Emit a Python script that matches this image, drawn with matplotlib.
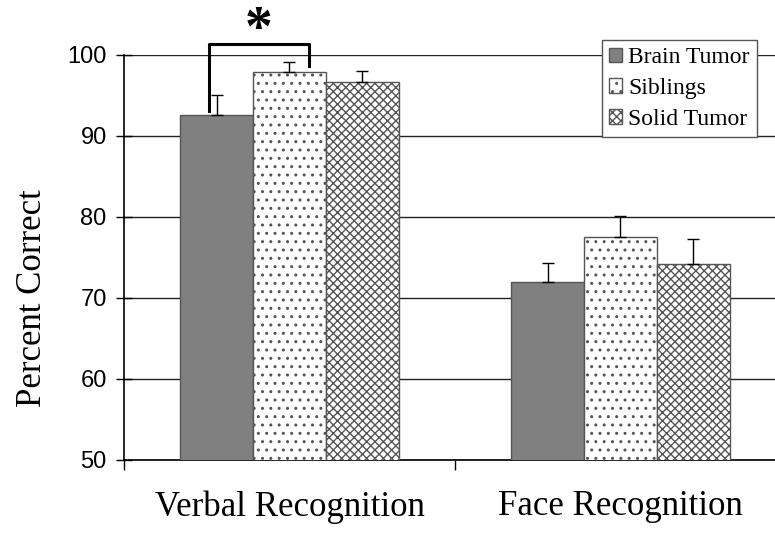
import numpy as np
import matplotlib
matplotlib.use("Agg")
import matplotlib.pyplot as plt

plt.rcParams['hatch.linewidth'] = 1.0

groups = ["Verbal Recognition", "Face Recognition"]
series = ["Brain Tumor", "Siblings", "Solid Tumor"]
means = {
    "Brain Tumor": [92.6, 72.0],
    "Siblings": [97.9, 77.5],
    "Solid Tumor": [96.7, 74.2],
}
sem = {
    "Brain Tumor": [2.5, 2.3],
    "Siblings": [1.2, 2.6],
    "Solid Tumor": [1.3, 3.1],
}
yticks = [50, 60, 70, 80, 90, 100]

styles = {
    "Brain Tumor": dict(facecolor="#808080", hatch=None),
    "Siblings": dict(facecolor="white", hatch=".."),
    "Solid Tumor": dict(facecolor="white", hatch="xxxx"),
}

fig = plt.figure(figsize=(7.75, 5.33), dpi=100)
ax = fig.add_axes([0.160, 0.137, 0.854, 0.760])

x = np.arange(len(groups))
w = 0.22
for i, name in enumerate(series):
    pos = x + (i - 1) * w
    st = styles[name]
    ax.bar(pos, means[name], w, bottom=0, color=st["facecolor"],
           edgecolor="#555555", hatch=st["hatch"], linewidth=1.0,
           label=name, zorder=3)
    # upper error bars only
    ax.errorbar(pos, means[name], yerr=[np.zeros(2), sem[name]], fmt="none",
                ecolor="black", elinewidth=1.0, capsize=4.5, capthick=1.0,
                zorder=4)

ax.set_xlim(-0.5, 1.5)
ax.set_ylim(50, 100)
ax.set_yticks(yticks)
ax.set_yticklabels([str(t) for t in yticks], family="Liberation Sans",
                   fontsize=17)
ax.yaxis.grid(True, color="#222222", linewidth=1.0, zorder=0)
ax.set_axisbelow(True)

ax.set_xticks([-0.5, 0.5, 1.5])
ax.set_xticklabels([])
ax.tick_params(axis="x", direction="out", length=7, width=1, color="black")
ax.tick_params(axis="y", direction="inout", length=11, width=1, pad=7)
for xi, g in zip(x, groups):
    ax.text(xi, -0.075, g, transform=ax.get_xaxis_transform(),
            ha="center", va="top", family="Liberation Serif", fontsize=25)

ax.set_ylabel("Percent Correct", family="Liberation Serif", fontsize=25)
ax.yaxis.set_label_coords(-0.113, 0.40)

for side in ["top", "right"]:
    ax.spines[side].set_visible(False)
ax.spines["left"].set_linewidth(1.2)
ax.spines["bottom"].set_linewidth(1.2)

# significance bracket between brain tumor and sibling groups
bx0, bx1 = x[0] - w - 0.024, x[0] + 0.06
ax.plot([bx0, bx0, bx1, bx1], [93.1, 101.4, 101.4, 98.6], color="black",
        linewidth=2.2, clip_on=False, zorder=5)
ax.text((bx0 + bx1) / 2, 106.1, "*", ha="center", va="top",
        family="Liberation Serif", fontweight="bold", fontsize=40,
        clip_on=False)

leg = ax.legend(loc="upper right", bbox_to_anchor=(0.956, 1.037),
                prop={"family": "Liberation Serif", "size": 17},
                frameon=True, fancybox=False, edgecolor="#555555",
                handlelength=0.55, handleheight=0.55, handletextpad=0.25,
                labelspacing=0.42, borderpad=0.3, borderaxespad=0,
                framealpha=1)
leg.get_frame().set_linewidth(1.0)

fig.savefig("out.png", dpi=100)
